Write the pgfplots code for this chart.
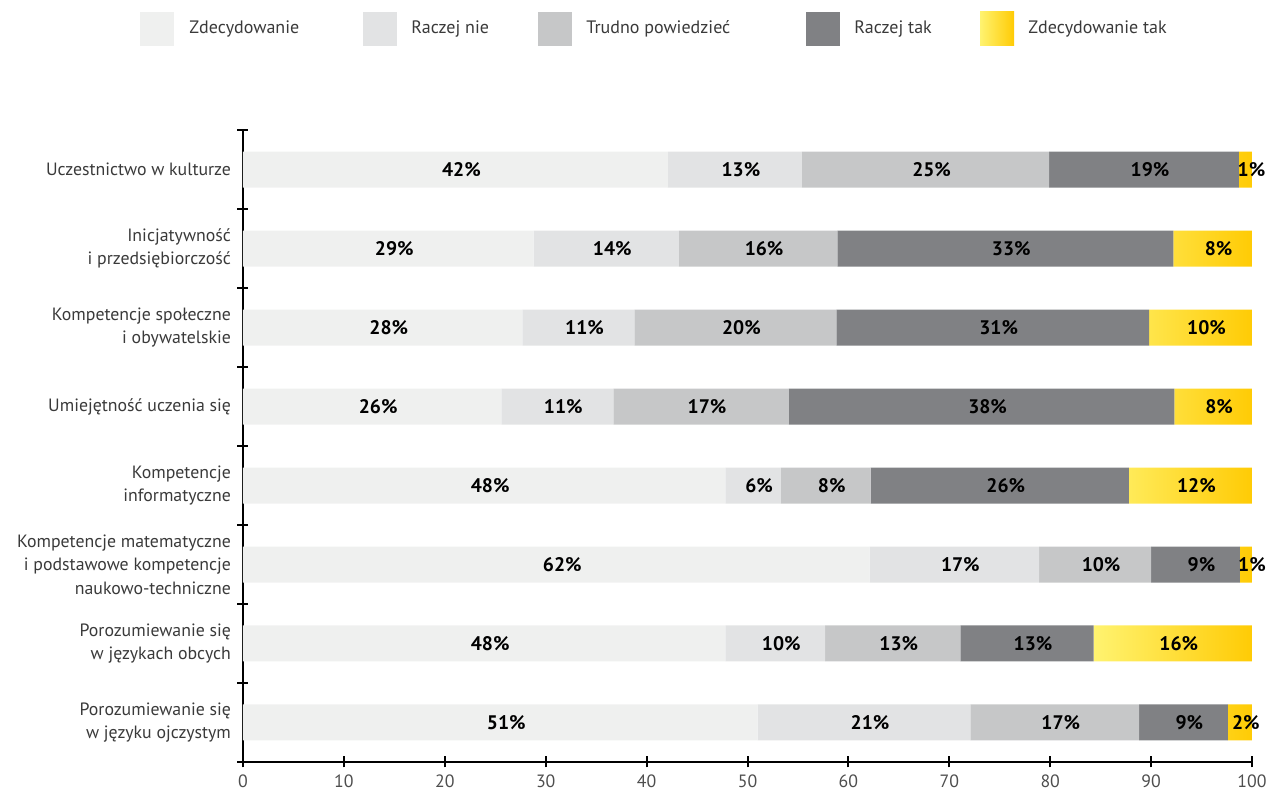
\documentclass[border=0pt]{standalone}
\usepackage{fontspec}
\setmainfont{PT Sans}
\usepackage{pgfplots}
\pgfplotsset{compat=1.18}
\definecolor{c1}{HTML}{EFF0EF}
\definecolor{c2}{HTML}{E2E3E4}
\definecolor{c3}{HTML}{C6C7C8}
\definecolor{c4}{HTML}{808184}
\definecolor{yl}{HTML}{FFF370}
\definecolor{yr}{HTML}{FFCB05}
\definecolor{txt}{HTML}{3A3A3A}
\begin{document}
\begin{tikzpicture}
\useasboundingbox (-121.5pt,-14.5pt) rectangle (518pt,381pt);
\begin{axis}[
  at={(0,0)}, anchor=south west, scale only axis,
  width=504.5pt, height=316pt,
  xbar stacked, bar width=18pt,
  xmin=0, xmax=100, ymin=-0.5, ymax=7.5,
  axis x line*=bottom, axis y line*=left,
  axis line style={line width=1pt, black, -},
  xtick={0,10,...,100},
  ytick={-0.5,0.5,...,7.5}, yticklabels={},
  extra y ticks={0,1,2,3,4,5,6,7},
  extra y tick labels={{Porozumiewanie się\\w języku ojczystym},{Porozumiewanie się\\w językach obcych},{Kompetencje matematyczne\\i podstawowe kompetencje\\naukowo-techniczne},{Kompetencje\\informatyczne},{Umiejętność uczenia się},{Kompetencje społeczne~\\i obywatelskie},{Inicjatywność~\\i przedsiębiorczość},{Uczestnictwo w kulturze}},
  extra y tick style={major tick length=0pt, tick style={draw=none}},
  tick align=center, major tick length=5.5pt,
  tick style={line width=1pt, black},
  yticklabel style={align=right, font=\fontsize{8.9}{11.75}\selectfont, text=txt, xshift=-2.5pt},
  xticklabel style={font=\fontsize{8.9}{10}\selectfont, text=txt!90, yshift=0pt},
  /pgf/number format/assume math mode=true,
  nodes near coords={\pgfmathprintnumber[fixed,precision=0]{\pgfplotspointmeta}\%},
  every node near coord/.append style={font=\bfseries\fontsize{9.8}{11}\selectfont, black, xshift=3pt},
  point meta=explicit,
  clip=false,
]
\addplot[fill=c1, draw=none] table[x=x, y=y, meta=l] {
x y l
51.0 0 51
47.8 1 48
62.1 2 62
47.8 3 48
25.6 4 26
27.7 5 28
28.8 6 29
42.1 7 42
};
\addplot[fill=c2, draw=none] table[x=x, y=y, meta=l] {
x y l
21.1 0 21
9.9 1 10
16.8 2 17
5.5 3 6
11.1 4 11
11.1 5 11
14.4 6 14
13.3 7 13
};
\addplot[fill=c3, draw=none] table[x=x, y=y, meta=l] {
x y l
16.7 0 17
13.4 1 13
11.1 2 10
8.9 3 8
17.4 4 17
20.0 5 20
15.7 6 16
24.5 7 25
};
\addplot[fill=c4, draw=none] table[x=x, y=y, meta=l] {
x y l
8.8 0 9
13.2 1 13
8.8 2 9
25.6 3 26
38.2 4 38
31.0 5 31
33.3 6 33
18.8 7 19
};
\addplot[left color=yl, right color=yr, draw=none] table[x=x, y=y, meta=l] {
x y l
2.4 0 2
15.7 1 16
1.2 2 1
12.2 3 12
7.7 4 8
10.2 5 10
7.8 6 8
1.3 7 1
};
\end{axis}
\begin{scope}[shift={(-121.5pt,381pt)}, x=0.5pt, y=-0.5pt]
\fill[c1] (140,12) rectangle (174,46);
\fill[c2] (363,12) rectangle (397,46);
\fill[c3] (538,12) rectangle (572,46);
\fill[c4] (806,12) rectangle (840,46);
\shade[left color=yl, right color=yr] (980,12) rectangle (1014,46);
\begin{scope}[every node/.style={anchor=base west, inner sep=0, text=txt, font=\fontsize{9}{10}\selectfont}]
\node at (189,34) {Zdecydowanie};
\node at (411,34) {Raczej nie};
\node at (586,34) {Trudno powiedzieć};
\node at (854,34) {Raczej tak};
\node at (1028,34) {Zdecydowanie tak};
\end{scope}
\end{scope}
\end{tikzpicture}
\end{document}
